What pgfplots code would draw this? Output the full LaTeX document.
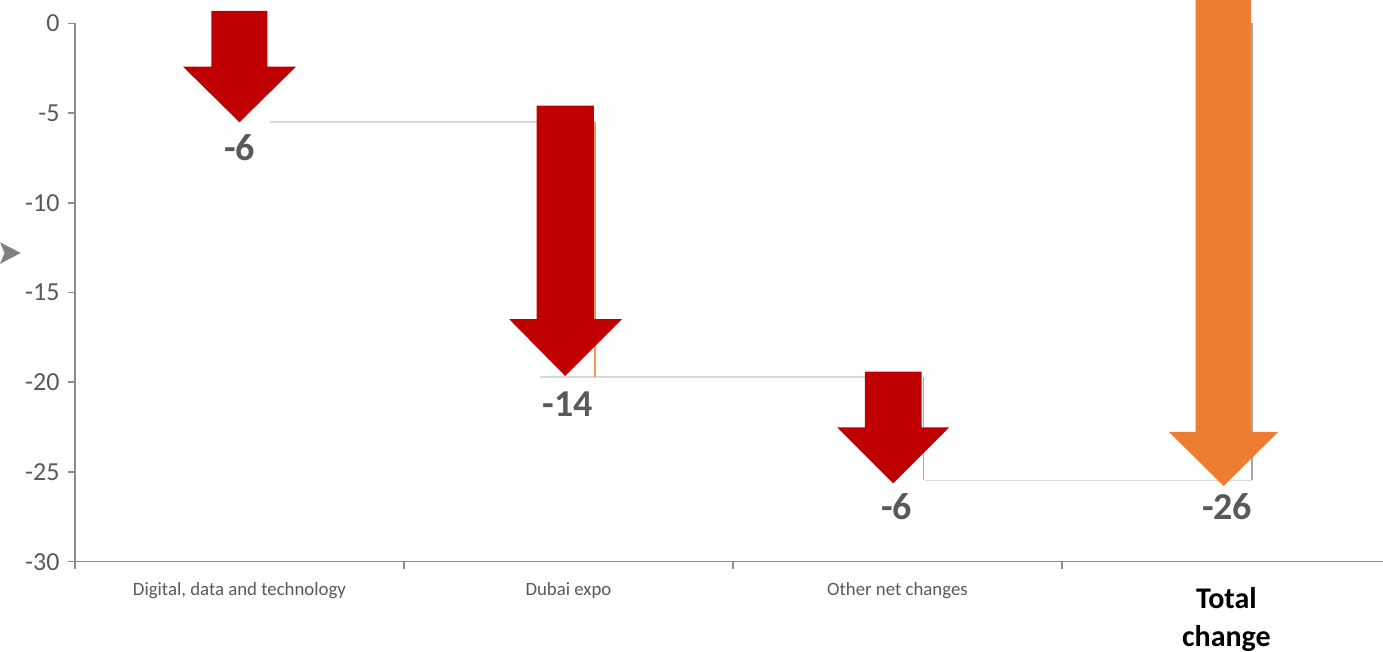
\documentclass[border=0pt]{standalone}
\usepackage{fontspec}
\setmainfont{Carlito}
\usepackage{pgfplots}
\pgfplotsset{compat=1.18}
\definecolor{arrred}{HTML}{C00000}
\definecolor{arrorange}{HTML}{ED7D31}
\definecolor{axgray}{HTML}{8C8C8C}
\definecolor{lblgray}{HTML}{595959}
\definecolor{conngray}{HTML}{D9D9D9}
\definecolor{totgray}{HTML}{A6A6A6}
\newcommand{\totlabel}{{\fontsize{30}{38}\selectfont\bfseries\color{black}\begin{tabular}{@{}c@{}}Total\\change\end{tabular}}}
\begin{document}
\begin{tikzpicture}
\begin{axis}[
  scale only axis, width=1308pt, height=538.4pt,
  xmin=-0.5, xmax=3.476, ymin=-30, ymax=0,
  clip=false,
  axis x line*=bottom, axis y line*=left,
  axis line style={axgray, line width=1.5pt, -},
  tick align=outside,
  ytick={-30,-25,-20,-15,-10,-5,0},
  yticklabel style={/pgf/number format/assume math mode=true, font=\fontsize{26}{30}\selectfont, color=lblgray, xshift=-5pt},
  major tick length=7pt,
  minor tick length=7pt,
  tick style={axgray, line width=1.5pt},
  xtick={0,1,2,3},
  x tick style={draw=none},
  minor xtick={-0.5,0.5,1.5,2.5},
  minor x tick style={draw=axgray, line width=1.5pt},
  xticklabels={{Digital, data and technology},{Dubai expo},{Other net changes},{\totlabel}},
  xticklabel style={align=center, anchor=north, font=\fontsize{18.8}{22}\selectfont, color=lblgray, yshift=-10pt},
]
% connector lines (waterfall levels)
\addplot[conngray, line width=1.5pt] coordinates {(0.093,-5.50) (1.080,-5.50)};
\addplot[conngray, line width=1.5pt] coordinates {(0.913,-19.70) (2.068,-19.70)};
\addplot[conngray, line width=1.5pt] coordinates {(2.084,-25.47) (3.078,-25.47)};
% underlying bar edges
\addplot[arrorange!80, line width=1.2pt] coordinates {(1.0805,-5.50) (1.0805,-19.70)};
\addplot[arrorange!80, line width=1.2pt] coordinates {(2.079,-19.70) (2.079,-25.47)};
\addplot[totgray, line width=2pt] coordinates {(3.078,0) (3.078,-25.47)};
% arrows
\addplot[fill=arrred, draw=none] coordinates {(-0.0851,0.685) (0.0851,0.685) (0.0851,-2.418) (0.1717,-2.418) (0,-5.515) (-0.1717,-2.418) (-0.0851,-2.418)} -- cycle;
\addplot[fill=arrred, draw=none] coordinates {(0.9033,-4.59) (1.0775,-4.59) (1.0775,-16.49) (1.1626,-16.49) (0.990,-19.65) (0.8201,-16.49) (0.9033,-16.49)} -- cycle;
\addplot[fill=arrred, draw=none] coordinates {(1.9012,-19.41) (2.0736,-19.41) (2.0736,-22.51) (2.1574,-22.51) (1.9872,-25.63) (1.8170,-22.51) (1.9012,-22.51)} -- cycle;
\addplot[fill=arrorange, draw=none] coordinates {(2.9064,1.30) (3.0745,1.30) (3.0745,-22.77) (3.1574,-22.77) (2.9915,-25.78) (2.8252,-22.77) (2.9064,-22.77)} -- cycle;
% value labels
\node[font=\fontsize{38}{40}\selectfont\bfseries, text=lblgray] at (axis cs:0.0,-6.95) {-6};
\node[font=\fontsize{38}{40}\selectfont\bfseries, text=lblgray] at (axis cs:0.998,-21.21) {-14};
\node[font=\fontsize{38}{40}\selectfont\bfseries, text=lblgray] at (axis cs:1.998,-26.95) {-6};
\node[font=\fontsize{38}{40}\selectfont\bfseries, text=lblgray] at (axis cs:3.002,-26.95) {-26};
% left annotation arrowhead
\fill[gray] (axis cs:-0.728,-12.20) -- (axis cs:-0.665,-12.80) -- (axis cs:-0.728,-13.40) -- (axis cs:-0.714,-12.80) -- cycle;
\coordinate (bbl) at (axis cs:-0.728,-35.03);
\coordinate (btr) at (axis cs:3.476,1.298);
\end{axis}
\pgfresetboundingbox
\useasboundingbox (bbl) rectangle (btr);
\end{tikzpicture}
\end{document}
